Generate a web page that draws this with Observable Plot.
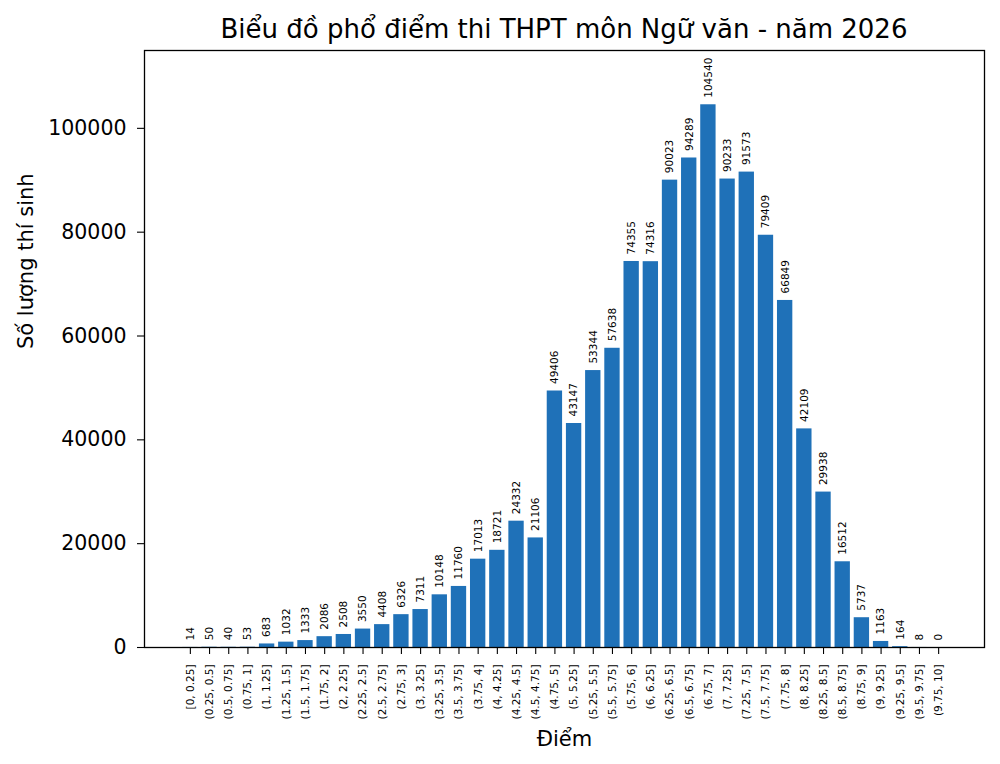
<!DOCTYPE html>
<html>
<head>
<meta charset="utf-8">
<script src="https://cdn.jsdelivr.net/npm/d3@7"></script>
<script src="https://cdn.jsdelivr.net/npm/@observablehq/plot@0.6"></script>
<style>
  html, body { margin: 0; padding: 0; background: #fff; }
  #title { height: 40px; box-sizing: border-box; padding-top: 16px; padding-left: 144px; width: 984px;
           font-family: "DejaVu Sans", sans-serif; font-size: 26px; line-height: 26px; text-align: center; color: #000; white-space: nowrap; }
</style>
</head>
<body>
<div id="title"></div>
<div id="chart"></div>
<script>
const titleText = "Biểu đồ phổ điểm thi THPT môn Ngữ văn - năm 2026";
const xLabel = "Điểm";
const yLabel = "Số lượng thí sinh";

const categories = [
  "[0, 0.25]", "(0.25, 0.5]", "(0.5, 0.75]", "(0.75, 1]",
  "(1, 1.25]", "(1.25, 1.5]", "(1.5, 1.75]", "(1.75, 2]",
  "(2, 2.25]", "(2.25, 2.5]", "(2.5, 2.75]", "(2.75, 3]",
  "(3, 3.25]", "(3.25, 3.5]", "(3.5, 3.75]", "(3.75, 4]",
  "(4, 4.25]", "(4.25, 4.5]", "(4.5, 4.75]", "(4.75, 5]",
  "(5, 5.25]", "(5.25, 5.5]", "(5.5, 5.75]", "(5.75, 6]",
  "(6, 6.25]", "(6.25, 6.5]", "(6.5, 6.75]", "(6.75, 7]",
  "(7, 7.25]", "(7.25, 7.5]", "(7.5, 7.75]", "(7.75, 8]",
  "(8, 8.25]", "(8.25, 8.5]", "(8.5, 8.75]", "(8.75, 9]",
  "(9, 9.25]", "(9.25, 9.5]", "(9.5, 9.75]", "(9.75, 10]"
];

const counts = [
  14, 50, 40, 53,
  683, 1032, 1333, 2086,
  2508, 3550, 4408, 6326,
  7311, 10148, 11760, 17013,
  18721, 24332, 21106, 49406,
  43147, 53344, 57638, 74355,
  74316, 90023, 94289, 104540,
  90233, 91573, 79409, 66849,
  42109, 29938, 16512, 5737,
  1163, 164, 8, 0
];

const yTicks = [0, 20000, 40000, 60000, 80000, 100000];

document.getElementById("title").textContent = titleText;

const data = categories.map((c, i) => ({bin: c, count: counts[i]}));
const yMax = d3.max(counts) * 1.1;

const chart = Plot.plot({
  width: 1000,
  height: 724,
  marginTop: 10,
  marginBottom: 117,
  marginLeft: 144,
  marginRight: 16,
  style: {fontFamily: "DejaVu Sans, sans-serif", color: "#000", background: "#fff"},
  x: {type: "band", domain: categories, paddingInner: 0.2, paddingOuter: 1.99, align: 0.5, round: false},
  y: {domain: [0, yMax]},
  marks: [
    Plot.barY(data, {x: "bin", y: "count", fill: "#1f71b8"}),
    Plot.text(data, {x: "bin", y: "count", text: d => String(d.count), rotate: -90,
      textAnchor: "start", dy: -7, fontSize: 10.5, fill: "#000"}),
    Plot.axisX({tickRotate: -90, fontSize: 10.5, tickSize: 7, tickPadding: 10, label: null, stroke: "#000", strokeWidth: 1.1}),
    Plot.axisY({ticks: yTicks, tickFormat: d => String(d), fontSize: 20.5, tickSize: 7, tickPadding: 11, label: null, stroke: "#000", strokeWidth: 1.1}),
    Plot.frame({stroke: "#000", strokeWidth: 1.3}),
    Plot.text([xLabel], {frameAnchor: "bottom", dy: 98, fontSize: 21, fill: "#000"}),
    Plot.text([yLabel], {frameAnchor: "left", rotate: -90, dx: -118, fontSize: 21, fill: "#000"})
  ]
});

document.getElementById("chart").appendChild(chart);
</script>
</body>
</html>
